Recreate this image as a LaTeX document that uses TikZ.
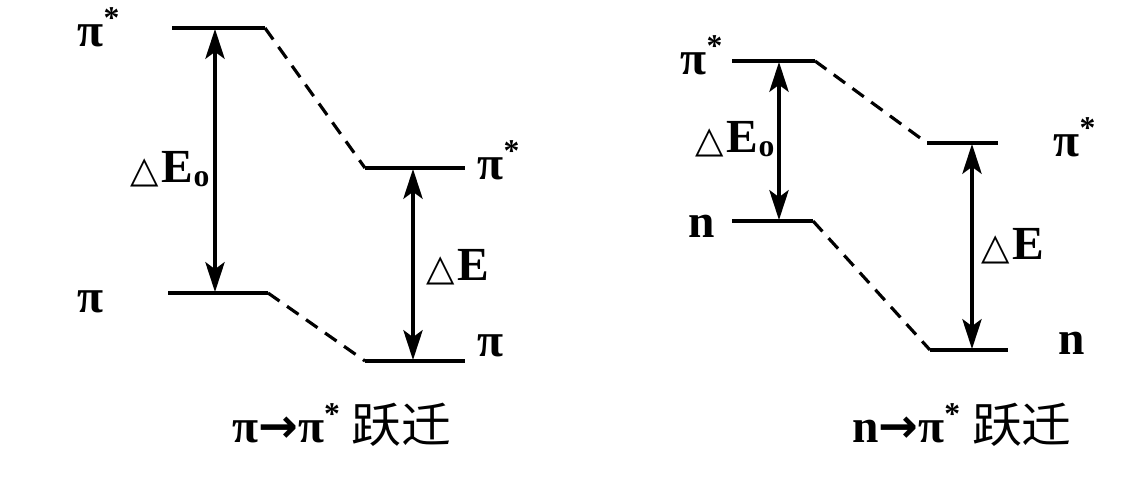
\documentclass[tikz,border=0pt]{standalone}
\usepackage{fontspec}
\setmainfont{Liberation Serif}
\newfontfamily\cjk{Noto Sans CJK SC}[FakeStretch=1.05]
\newfontfamily\symfnt{DejaVu Sans}
\usepackage{tikz}
\usetikzlibrary{arrows.meta, positioning}

\newcommand{\tri}{{\symfnt\mdseries\fontsize{10.5}{10.5}\selectfont △}\kern0.8pt}
\newcommand{\Eo}{E\raisebox{-0.15ex}{\fontsize{9}{9}\selectfont o}}
\newcommand{\pist}{π\raisebox{0.85ex}{\fontsize{9}{9}\selectfont *}}

\begin{document}
\begin{tikzpicture}[
    x=0.01cm, y=-0.01cm,
    level/.style={line width=0.9pt},
    corr/.style={line width=0.9pt, dash pattern=on 4pt off 2.6pt},
    gap/.style={line width=0.9pt, {Stealth[length=8.5pt,width=5.5pt,inset=2pt]}-{Stealth[length=8.5pt,width=5.5pt,inset=2pt]}},
    lbl/.style={font=\fontsize{13.5}{13.5}\selectfont\bfseries, anchor=base west, inner sep=0pt},
    elbl/.style={font=\fontsize{13.5}{13.5}\selectfont\bfseries, anchor=base west, inner sep=0pt},
    title/.style={font=\fontsize{13.5}{13.5}\selectfont\bfseries, anchor=base, inner sep=0pt}
]
\useasboundingbox (0,0) rectangle (1132,489);

% pi -> pi* : levels
\coordinate (ls1) at (172,28);  \coordinate (ls2) at (265,28);
\coordinate (ls3) at (365,168); \coordinate (ls4) at (465,168);
\coordinate (lp1) at (168,293); \coordinate (lp2) at (268,293);
\coordinate (lp3) at (365,361); \coordinate (lp4) at (465,361);
\draw[level] (ls1) -- (ls2);
\draw[corr] (ls2) -- (ls3);
\draw[level] (ls3) -- (ls4);
\draw[level] (lp1) -- (lp2);
\draw[corr] (lp2) -- (lp3);
\draw[level] (lp3) -- (lp4);

% pi -> pi* : gaps
\coordinate (la1) at (215,29);  \coordinate (la2) at (215,292);
\coordinate (lb1) at (413,169); \coordinate (lb2) at (413,360);
\draw[gap] (la1) -- (la2);
\draw[gap] (lb1) -- (lb2);

\node[lbl] (lpsl) at (77,47) {\pist};
\node[lbl] (lpl) at (77,313) {π};
\node[elbl] (le0) at (130,183) {\tri\Eo};
\node[lbl] (lpsr) at (477,180) {\pist};
\node[elbl] (le) at (426,281) {\tri E};
\node[lbl] (lpr) at (477,357) {π};
\node[title] (lt) at (342,443) {π{\symfnt\bfseries →}\pist\ {\cjk\mdseries 跃迁}};

% n -> pi* : levels
\coordinate (rs1) at (732,61);  \coordinate (rs2) at (815,61);
\coordinate (rs3) at (927,143); \coordinate (rs4) at (998,143);
\coordinate (rn1) at (732,221); \coordinate (rn2) at (813,221);
\coordinate (rn3) at (930,350); \coordinate (rn4) at (1008,350);
\draw[level] (rs1) -- (rs2);
\draw[corr] (rs2) -- (rs3);
\draw[level] (rs3) -- (rs4);
\draw[level] (rn1) -- (rn2);
\draw[corr] (rn2) -- (rn3);
\draw[level] (rn3) -- (rn4);

% n -> pi* : gaps
\coordinate (ra1) at (779,62);  \coordinate (ra2) at (779,220);
\coordinate (rb1) at (972,144); \coordinate (rb2) at (972,349);
\draw[gap] (ra1) -- (ra2);
\draw[gap] (rb1) -- (rb2);

\node[lbl] (rpsl) at (680,75) {\pist};
\node[lbl] (rnl) at (688,238) {n};
\node[elbl] (re0) at (695,153) {\tri\Eo};
\node[lbl] (rpsr) at (1053,157) {\pist};
\node[elbl] (re) at (981,260) {\tri E};
\node[lbl] (rnr) at (1058,355) {n};
\node[title] (rt) at (962,443) {n{\symfnt\bfseries →}\pist\ {\cjk\mdseries 跃迁}};

\end{tikzpicture}
\end{document}
